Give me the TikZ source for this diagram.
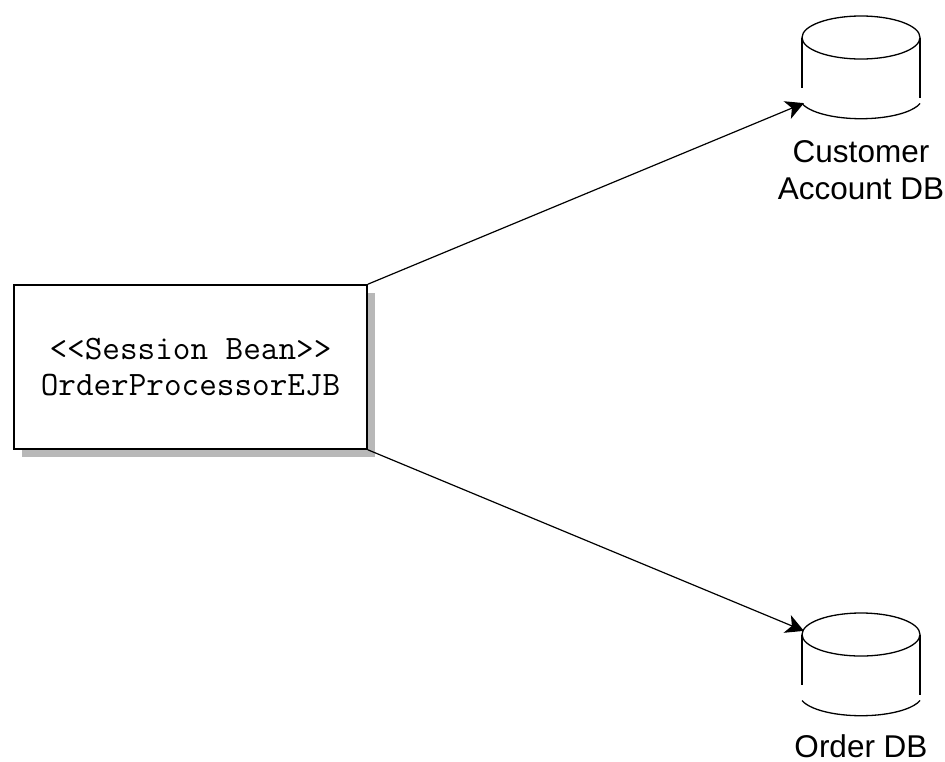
\documentclass[tikz,border=0pt]{standalone}
\usepackage{fontspec}
\setmainfont{Liberation Sans}
\usetikzlibrary{shadows,positioning,arrows.meta}
\tikzset{
	bean/.style={rectangle, draw=black, fill=white, line width=1.5pt,
		minimum width=353pt, minimum height=164pt, inner sep=0pt, align=center,
		font=\fontsize{34.2}{36}\selectfont\ttfamily,
		drop shadow={shadow xshift=8pt, shadow yshift=-8pt, fill=black!28, opacity=1}},
	dblabel/.style={inner sep=0pt, align=center,
		font=\fontsize{31.5}{37}\selectfont},
	conn/.style={-{Stealth[length=18pt,width=19pt,inset=5pt]}, line width=1.2pt, shorten >=-1pt},
	dbline/.style={line width=1.3pt},
	dbdisk/.pic={
		\draw[dbline] (0,0) ellipse [x radius=59, y radius=21.5];
		\draw[dbline] (-59,0) -- (-59,50);
		\draw[dbline] (59,0) -- (59,60);
		\draw[dbline] (-59,66) arc [start angle=164, end angle=16, x radius=61.4, y radius=21];
		\coordinate (-low) at (-58,66);
		\coordinate (-rim) at (-58,-4);
	}
}
\begin{document}
\begin{tikzpicture}[x=1pt, y=-1pt]
	\useasboundingbox (0,0) rectangle (945,761);
	\node[bean] (session) at (190.5,367) {<{}<Session Bean>{}>\\OrderProcessorEJB};

	\pic (custdb) at (861,37.5) {dbdisk};
	\pic (orderdb) at (861,634.5) {dbdisk};

	\node[dblabel] (custlabel) at (861,170) {Customer\\Account DB};
	\node[dblabel, anchor=base] (orderlabel) at (861,757) {Order DB};

	\draw[conn] (session.north east) -- (custdb-low);
	\draw[conn] (session.south east) -- (orderdb-rim);
\end{tikzpicture}
\end{document}
